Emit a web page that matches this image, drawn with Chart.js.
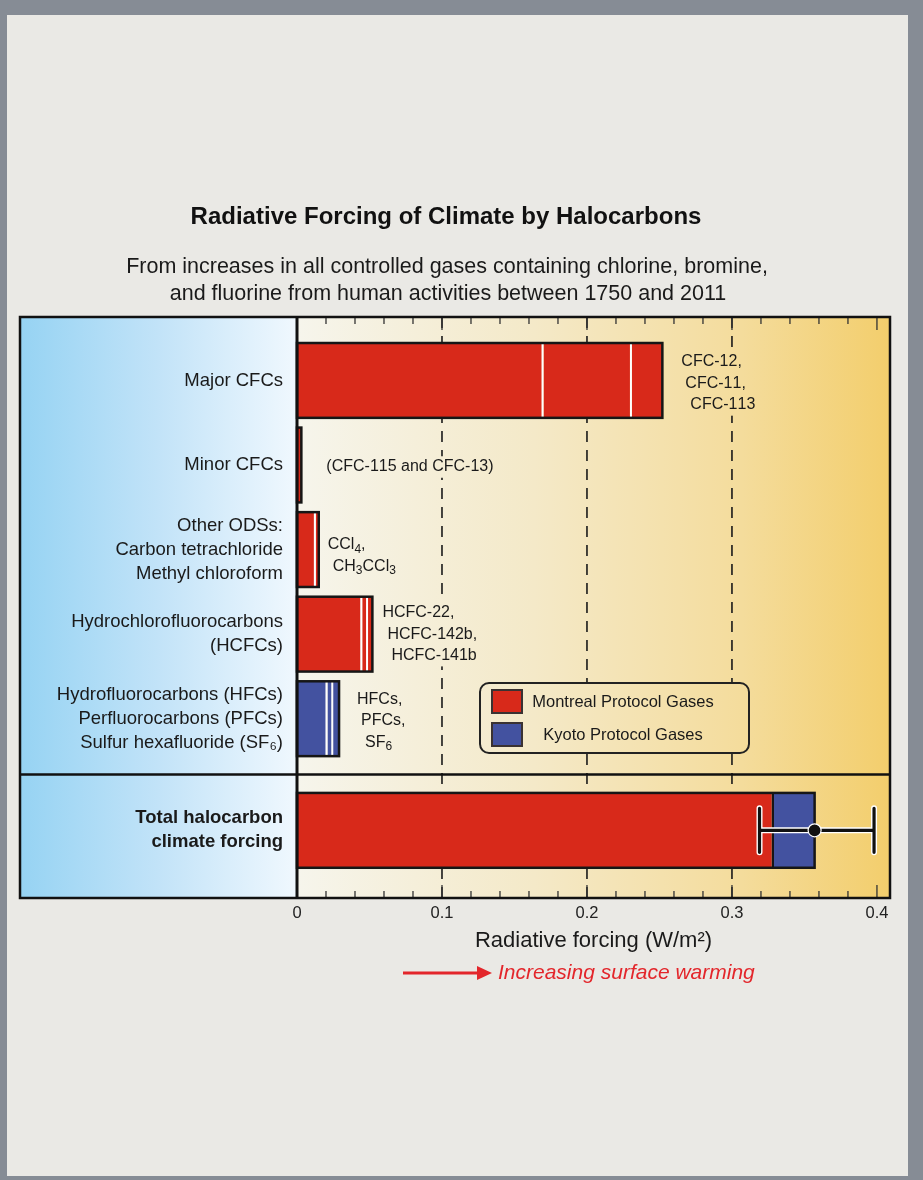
<!DOCTYPE html>
<html>
<head>
<meta charset="utf-8">
<script src="https://cdn.jsdelivr.net/npm/chart.js@4.4.1/dist/chart.umd.min.js"></script>
<style>
body { margin: 0; background: #868c95; width: 923px; height: 1180px; overflow: hidden; }
#panel { position: absolute; left: 7px; top: 15px; width: 901px; height: 1161px; background: #eae9e5; }
#myChart { position: absolute; left: 0; top: 0; }
</style>
</head>
<body>
<div id="panel"></div>
<canvas id="myChart" width="923" height="1180"></canvas>
<script>
// rows of the upper panel
const categories = [
  ['Major CFCs'],
  ['Minor CFCs'],
  ['Other ODSs:', 'Carbon tetrachloride', 'Methyl chloroform'],
  ['Hydrochlorofluorocarbons', '(HCFCs)'],
  ['Hydrofluorocarbons (HFCs)', 'Perfluorocarbons (PFCs)', 'Sulfur hexafluoride (SF₆)']
];
const protocol = ['Montreal', 'Montreal', 'Montreal', 'Montreal', 'Kyoto'];

// forcing in W/m2, up to three gases in each bar
const firstGas  = [0.170, 0.003, 0.013, 0.045, 0.021];
const secondGas = [0.061, 0,     0.002, 0.004, 0.004];
const thirdGas  = [0.021, 0,     0,     0.003, 0.004];
const gasNotes = [
  ['CFC-12,', 'CFC-11,', 'CFC-113'],
  ['(CFC-115 and CFC-13)'],
  ['CCl₄,', 'CH₃CCl₃'],
  ['HCFC-22,', 'HCFC-142b,', 'HCFC-141b'],
  ['HFCs,', 'PFCs,', 'SF₆']
];

const totalLabel = ['Total halocarbon', 'climate forcing'];
const totalMontreal = 0.329;
const totalKyoto = 0.028;
const totalRange = [0.319, 0.398];

const xTicks = [0, 0.1, 0.2, 0.3, 0.4];
const xTickLabels = ['0', '0.1', '0.2', '0.3', '0.4'];

const title = 'Radiative Forcing of Climate by Halocarbons';
const subtitle = ['From increases in all controlled gases containing chlorine, bromine,',
                  'and fluorine from human activities between 1750 and 2011'];

// layout
const FONT = '"Liberation Sans", Arial, sans-serif';
const RED = '#d8291a', BLUE = '#4352a0';
const TOTAL_ROW = 5.32, SPLIT_ROW = 4.66;
const rowPos = categories.map((c, i) => i);
const noteShift = [[19, 3, [0, 4, 9]], [25, 2, [0]], [9, 6, [0, 5]], [10, 0, [0, 5, 9]], [18, 2, [0, 4, 8]]];

Chart.defaults.font.family = FONT;
Chart.defaults.color = '#1a1a1a';

const colors = protocol.map(p => p === 'Montreal' ? RED : BLUE);
const rows = vals => vals.map((v, i) => ({x: v, y: rowPos[i]}));

function warm(ctx, a) {
  const g = ctx.createLinearGradient(a.left, 0, a.right, 0);
  g.addColorStop(0, '#f6f5ec');
  g.addColorStop(0.4, '#f4e9c8');
  g.addColorStop(0.75, '#f4dc9c');
  g.addColorStop(1, '#f3ce6c');
  return g;
}

// text with subscript digits drawn smaller and lower
function subText(ctx, text, x, y, size) {
  let cx = x;
  for (const ch of text) {
    const code = ch.charCodeAt(0);
    if (code >= 0x2080 && code <= 0x2089) {
      ctx.font = (size * 0.75) + 'px ' + FONT;
      const d = String(code - 0x2080);
      ctx.fillText(d, cx, y + size * 0.3);
      cx += ctx.measureText(d).width;
    } else {
      ctx.font = size + 'px ' + FONT;
      ctx.fillText(ch, cx, y);
      cx += ctx.measureText(ch).width;
    }
  }
  ctx.font = size + 'px ' + FONT;
  return cx - x;
}

const decor = {
  id: 'decor',
  beforeDraw(chart) {
    const {ctx, chartArea: a} = chart;
    ctx.save();
    const cool = ctx.createLinearGradient(20, 0, a.left, 0);
    cool.addColorStop(0, '#96d3f3');
    cool.addColorStop(0.5, '#c2e3f8');
    cool.addColorStop(1, '#f0f8fe');
    ctx.fillStyle = cool;
    ctx.fillRect(20, a.top, a.left - 20, a.bottom - a.top);
    ctx.fillStyle = warm(ctx, a);
    ctx.fillRect(a.left, a.top, a.right - a.left, a.bottom - a.top);

    ctx.textAlign = 'center';
    ctx.textBaseline = 'middle';
    ctx.fillStyle = '#111';
    ctx.font = 'bold 24px ' + FONT;
    ctx.fillText(title, 446, 217);
    ctx.font = '21.5px ' + FONT;
    ctx.fillStyle = '#1a1a1a';
    ctx.fillText(subtitle[0], 447, 267);
    ctx.fillText(subtitle[1], 448, 294);
    ctx.restore();
  },
  beforeDatasetsDraw(chart) {
    const {ctx, chartArea: a, scales: {x}} = chart;
    ctx.save();
    ctx.strokeStyle = '#1a1a1a';
    ctx.lineWidth = 1.6;
    ctx.setLineDash([11, 8]);
    xTicks.forEach(v => {
      if (v <= 0 || v >= 0.4) return;
      const px = x.getPixelForValue(v);
      ctx.beginPath();
      ctx.moveTo(px, a.top);
      ctx.lineTo(px, a.bottom);
      ctx.stroke();
    });
    ctx.restore();
  },
  afterDatasetsDraw(chart) {
    const {ctx, chartArea: a, scales: {x, y}} = chart;
    const x0 = x.getPixelForValue(0);
    ctx.save();

    // outline round each whole bar
    const outline = (el) => {
      const p = el.getProps(['x', 'y', 'height'], true);
      ctx.strokeStyle = '#161616';
      ctx.lineWidth = 2.5;
      ctx.strokeRect(x0, p.y - p.height / 2, p.x - x0, p.height);
      return p;
    };
    const ends = chart.getDatasetMeta(2).data.map(outline);
    outline(chart.getDatasetMeta(4).data[0]);

    // gas notes
    const bg = warm(ctx, a);
    ctx.textAlign = 'left';
    ctx.textBaseline = 'middle';
    gasNotes.forEach((lines, i) => {
      const [dx, dy, indent] = noteShift[i];
      const left = ends[i].x + dx;
      const lh = 21.5;
      const top = ends[i].y + dy - lines.length * lh / 2;
      ctx.font = '16px ' + FONT;
      const w = Math.max(...lines.map((t, j) => ctx.measureText(t).width + indent[j]));
      ctx.fillStyle = bg;
      ctx.fillRect(left - 3, top, w + 6, lines.length * lh);
      ctx.fillStyle = '#1a1a1a';
      lines.forEach((t, j) => subText(ctx, t, left + indent[j], top + lh * (j + 0.5), 16));
    });

    // legend
    ctx.beginPath();
    ctx.roundRect(480, 683, 269, 70, 9);
    ctx.fillStyle = bg;
    ctx.fill();
    ctx.lineWidth = 2;
    ctx.strokeStyle = '#222';
    ctx.stroke();
    [[chart.data.datasets[3], 690], [chart.data.datasets[4], 723]].forEach(([ds, top]) => {
      ctx.fillStyle = ds.backgroundColor;
      ctx.fillRect(492, top, 30, 23);
      ctx.strokeStyle = '#3a3232';
      ctx.lineWidth = 2;
      ctx.strokeRect(492, top, 30, 23);
      ctx.fillStyle = '#1a1a1a';
      ctx.font = '16.5px ' + FONT;
      ctx.textAlign = 'center';
      ctx.fillText(ds.label, 623, top + 12.5);
    });

    // uncertainty of the total
    const yt = y.getPixelForValue(TOTAL_ROW);
    const xl = x.getPixelForValue(totalRange[0]);
    const xh = x.getPixelForValue(totalRange[1]);
    const xc = x.getPixelForValue(totalMontreal + totalKyoto);
    const errPath = () => {
      ctx.beginPath();
      ctx.moveTo(xl, yt); ctx.lineTo(xh, yt);
      ctx.moveTo(xl, yt - 22); ctx.lineTo(xl, yt + 22);
      ctx.moveTo(xh, yt - 22); ctx.lineTo(xh, yt + 22);
    };
    ctx.lineCap = 'round';
    errPath(); ctx.strokeStyle = '#fff'; ctx.lineWidth = 6; ctx.stroke();
    errPath(); ctx.strokeStyle = '#111'; ctx.lineWidth = 3.2; ctx.stroke();
    ctx.beginPath();
    ctx.arc(xc, yt, 6.5, 0, Math.PI * 2);
    ctx.fillStyle = '#111'; ctx.fill();
    ctx.strokeStyle = '#fff'; ctx.lineWidth = 1.2; ctx.stroke();
    ctx.lineCap = 'butt';

    // small inward ticks on top and bottom edges
    ctx.strokeStyle = '#333';
    ctx.lineWidth = 1.3;
    for (let k = 1; k <= 20; k++) {
      const px = x.getPixelForValue(k / 50);
      const len = k % 5 === 0 ? 13 : 7;
      ctx.beginPath();
      ctx.moveTo(px, a.top); ctx.lineTo(px, a.top + len);
      ctx.moveTo(px, a.bottom); ctx.lineTo(px, a.bottom - len);
      ctx.stroke();
    }

    // frame, split and zero line
    ctx.strokeStyle = '#111';
    ctx.lineWidth = 2.5;
    ctx.strokeRect(20, a.top, a.right - 20, a.bottom - a.top);
    const ys = y.getPixelForValue(SPLIT_ROW);
    ctx.beginPath();
    ctx.moveTo(20, ys); ctx.lineTo(a.right, ys);
    ctx.stroke();
    ctx.lineWidth = 3;
    ctx.beginPath();
    ctx.moveTo(x0, a.top); ctx.lineTo(x0, a.bottom);
    ctx.stroke();
    ctx.restore();
  },
  afterDraw(chart) {
    const {ctx} = chart;
    ctx.save();
    ctx.strokeStyle = '#e3262b';
    ctx.fillStyle = '#e3262b';
    ctx.lineWidth = 3;
    ctx.beginPath();
    ctx.moveTo(403, 973); ctx.lineTo(482, 973);
    ctx.stroke();
    ctx.beginPath();
    ctx.moveTo(492, 973); ctx.lineTo(477, 966); ctx.lineTo(477, 980);
    ctx.closePath();
    ctx.fill();
    ctx.font = 'italic 21px ' + FONT;
    ctx.textAlign = 'left';
    ctx.textBaseline = 'middle';
    ctx.fillText('Increasing surface warming', 498, 973);
    ctx.restore();
  }
};

const yLabels = categories.concat([totalLabel]);
const yPositions = rowPos.concat([TOTAL_ROW]);

let myChart = document.getElementById('myChart').getContext('2d');
let barChart = new Chart(myChart, {
  type: 'bar',
  data: {
    datasets: [
      {
        label: 'first gas',
        data: rows(firstGas),
        backgroundColor: colors,
        borderColor: '#fff',
        borderWidth: c => secondGas[c.dataIndex] > 0 ? {top: 0, bottom: 0, left: 0, right: 2} : 0,
        borderSkipped: false,
        stack: 'all'
      },
      {
        label: 'second gas',
        data: rows(secondGas),
        backgroundColor: colors,
        borderColor: '#fff',
        borderWidth: c => thirdGas[c.dataIndex] > 0 ? {top: 0, bottom: 0, left: 0, right: 2} : 0,
        borderSkipped: false,
        stack: 'all'
      },
      {
        label: 'third gas',
        data: rows(thirdGas),
        backgroundColor: colors,
        borderWidth: 0,
        stack: 'all'
      },
      {
        label: 'Montreal Protocol Gases',
        data: [{x: totalMontreal, y: TOTAL_ROW}],
        backgroundColor: RED,
        borderColor: '#161616',
        borderWidth: {top: 0, bottom: 0, left: 0, right: 2.5},
        borderSkipped: false,
        stack: 'all'
      },
      {
        label: 'Kyoto Protocol Gases',
        data: [{x: totalKyoto, y: TOTAL_ROW}],
        backgroundColor: BLUE,
        borderWidth: 0,
        stack: 'all'
      }
    ]
  },
  options: {
    indexAxis: 'y',
    responsive: false,
    animation: false,
    categoryPercentage: 1,
    barPercentage: 0.885,
    layout: {padding: {left: 20, right: 33, top: 317, bottom: 226}},
    plugins: {
      legend: {display: false},
      tooltip: {enabled: false}
    },
    scales: {
      x: {
        type: 'linear',
        min: 0,
        max: 0.409,
        stacked: true,
        afterBuildTicks: s => { s.ticks = xTicks.map(v => ({value: v})); },
        afterFit: s => { s.height = 56; },
        grid: {display: false, drawTicks: false},
        border: {display: false},
        ticks: {
          padding: 6,
          color: '#222',
          font: {size: 16.5},
          callback: (v, i) => xTickLabels[i]
        },
        title: {
          display: true,
          text: 'Radiative forcing (W/m²)',
          color: '#1a1a1a',
          font: {size: 22},
          padding: 0
        }
      },
      y: {
        type: 'linear',
        reverse: true,
        offset: false,
        min: -0.75,
        max: 6.12,
        afterBuildTicks: s => { s.ticks = yPositions.map(v => ({value: v})); },
        afterFit: s => { s.width = 277; },
        grid: {display: false, drawTicks: false, offset: false},
        border: {display: false},
        ticks: {
          autoSkip: false,
          padding: 14,
          color: '#1a1a1a',
          font: c => ({size: 18.5, lineHeight: '24px', weight: c.index === 5 ? 'bold' : 'normal'}),
          callback: (v, i) => yLabels[i]
        }
      }
    }
  },
  plugins: [decor]
});
</script>
</body>
</html>
